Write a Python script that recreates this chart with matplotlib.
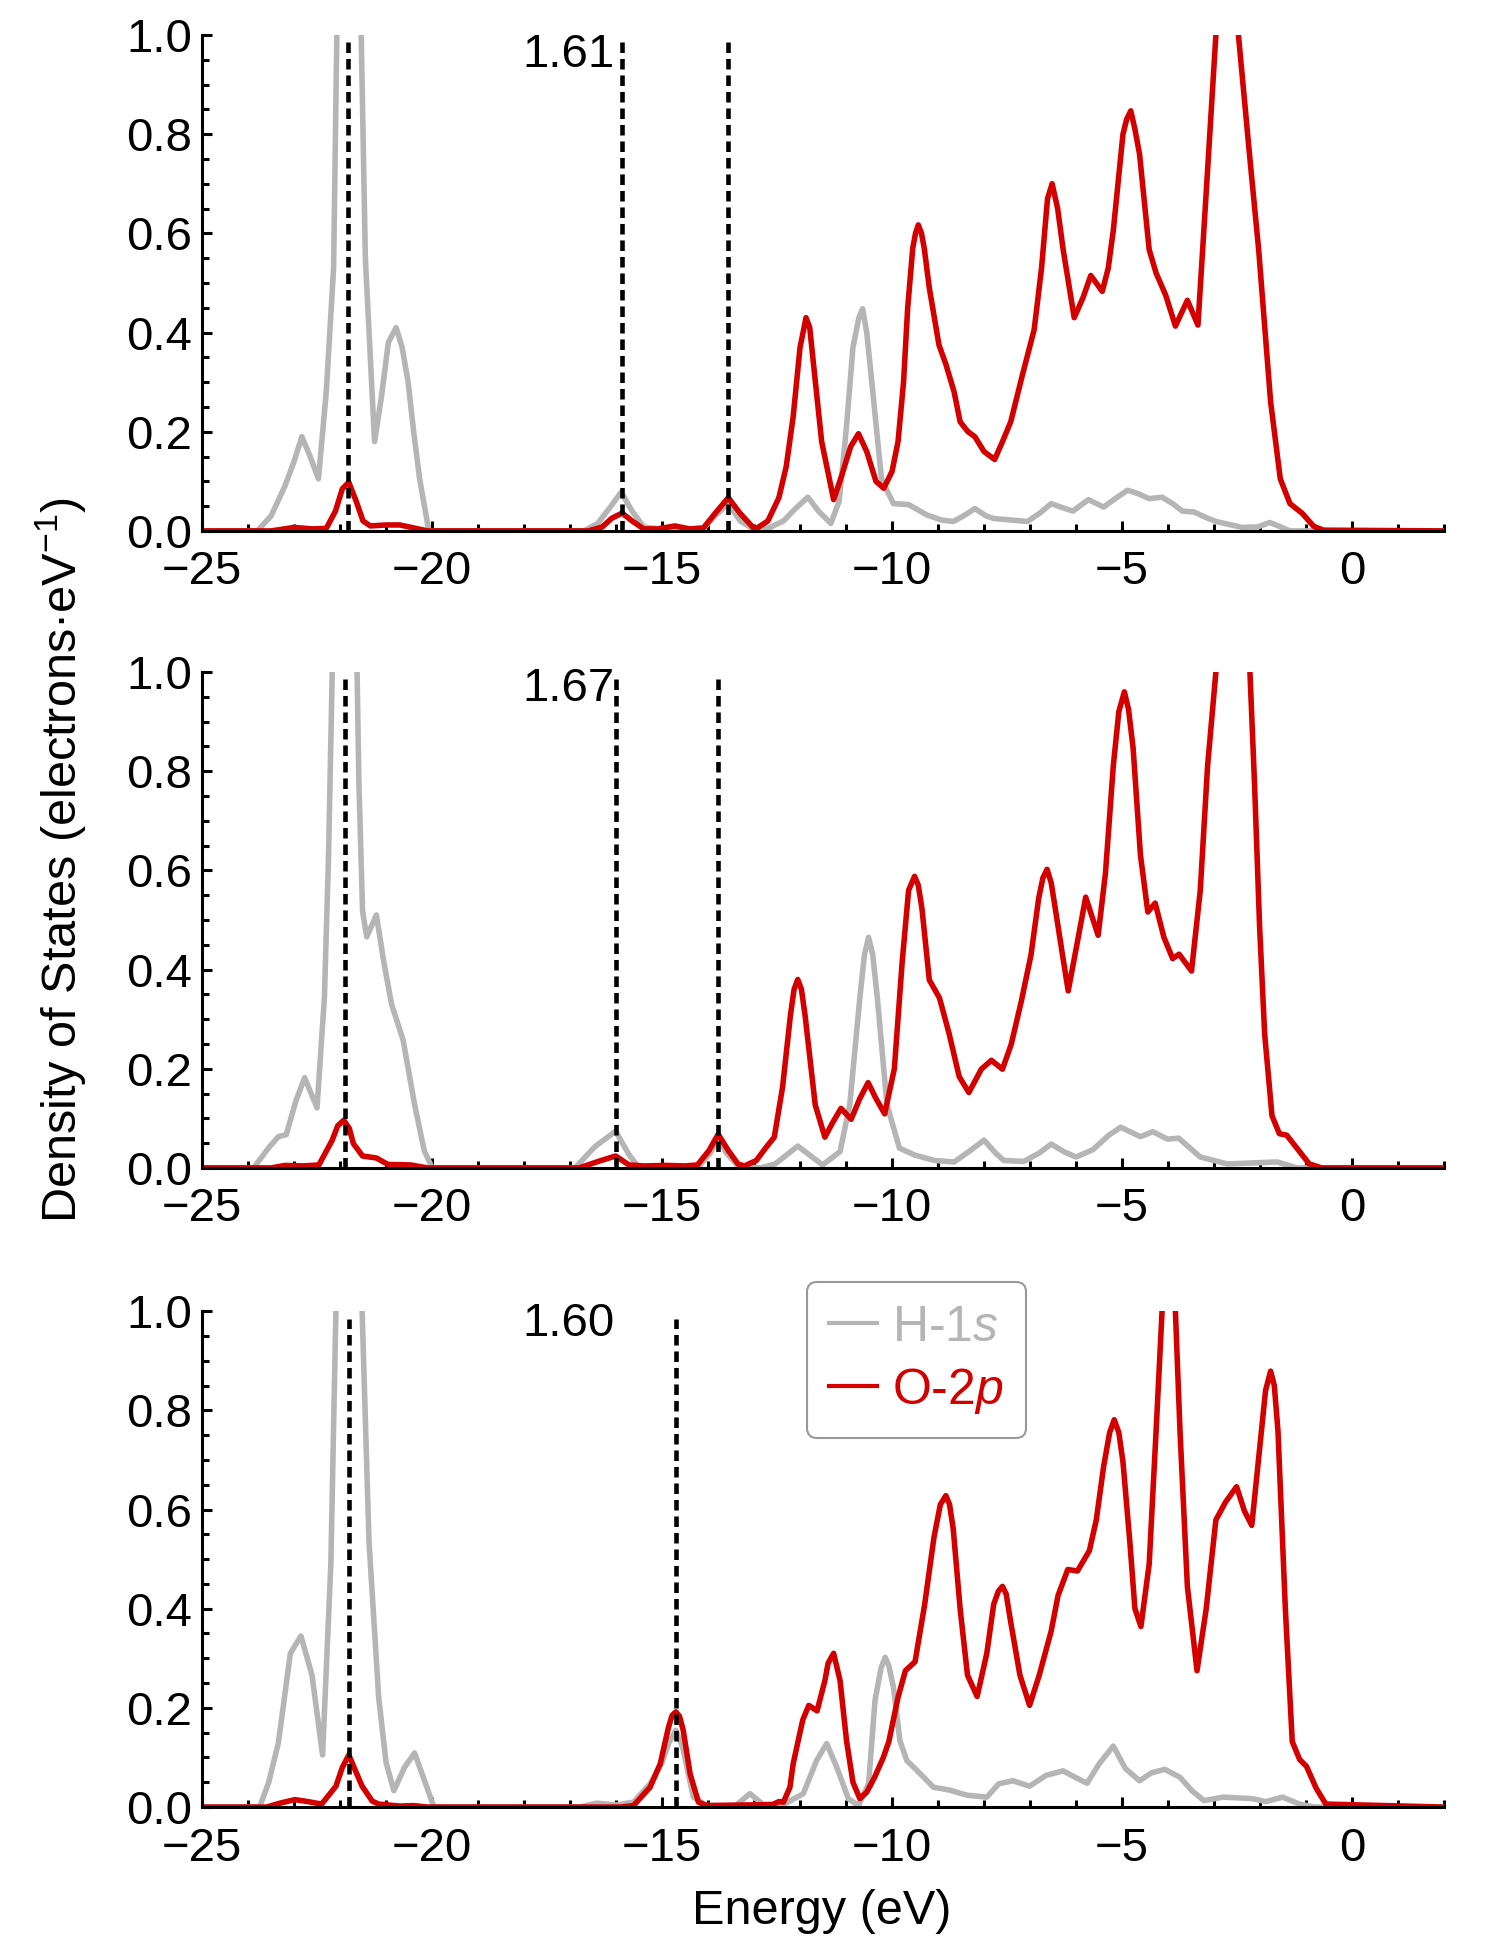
import matplotlib
matplotlib.use('Agg')
import matplotlib.pyplot as plt
from matplotlib.ticker import MultipleLocator, FormatStrFormatter
from matplotlib.lines import Line2D

plt.rcParams['font.family'] = ['Liberation Sans', 'DejaVu Sans']
plt.rcParams['mathtext.fontset'] = 'custom'
plt.rcParams['mathtext.rm'] = 'Liberation Sans'
plt.rcParams['mathtext.it'] = 'Liberation Sans:italic'

GRAY = '#b5b5b5'
RED = '#d40000'

# ---- panel 1 ----
h1_e = [-25, -23.8, -23.5, -23.2, -23.0, -22.83, -22.65, -22.47, -22.3, -22.14, -22.07, -21.95, -21.8,
        -21.65, -21.54, -21.45, -21.25, -21.1, -20.95, -20.78, -20.65, -20.52, -20.4, -20.27, -20.07,
        -16.7, -16.4, -16.15, -15.89, -15.65, -15.4, -14.9, -14.1, -13.85, -13.56, -13.3, -13.0, -12.7,
        -12.36, -12.1, -11.83, -11.6, -11.33, -11.15, -11.0, -10.85, -10.72, -10.64, -10.55, -10.44,
        -10.23, -9.97, -9.64, -9.24, -8.93, -8.67, -8.45, -8.2, -7.95, -7.79, -7.42, -7.06, -6.8, -6.54,
        -6.3, -6.07, -5.73, -5.4, -5.15, -4.88, -4.65, -4.41, -4.13, -3.9, -3.69, -3.43, -3.2, -2.96,
        -2.39, -2.05, -1.79, -1.55, -1.35, 2]
h1_v = [0, 0, 0.03, 0.09, 0.14, 0.19, 0.15, 0.105, 0.28, 0.53, 1.0, 1.8, 2.2,
        1.8, 1.0, 0.55, 0.18, 0.27, 0.38, 0.41, 0.37, 0.30, 0.2, 0.105, 0,
        0, 0.015, 0.045, 0.078, 0.04, 0.008, 0.002, 0.005, 0.03, 0.055, 0.02, 0.003, 0.005,
        0.02, 0.045, 0.068, 0.04, 0.015, 0.06, 0.2, 0.37, 0.43, 0.448, 0.40, 0.30,
        0.105, 0.055, 0.053, 0.032, 0.022, 0.019, 0.03, 0.045, 0.03, 0.025, 0.022, 0.019, 0.035, 0.055,
        0.047, 0.04, 0.063, 0.048, 0.065, 0.082, 0.075, 0.065, 0.068, 0.055, 0.04, 0.038, 0.028, 0.019,
        0.007, 0.008, 0.017, 0.008, 0.0, 0]
o1_e = [-25, -23.5, -23.0, -22.6, -22.3, -22.1, -21.95, -21.81, -21.65, -21.5, -21.34, -21.0, -20.7,
        -20.4, -20.1, -16.6, -16.3, -16.1, -15.87, -15.65, -15.4, -15.1, -14.72, -14.4, -14.1, -13.85,
        -13.56, -13.3, -12.98, -12.7, -12.46, -12.3, -12.15, -12.0, -11.87, -11.79, -11.7, -11.53, -11.27,
        -11.1, -10.9, -10.73, -10.55, -10.35, -10.18, -10.0, -9.87, -9.75, -9.66, -9.55, -9.49, -9.43,
        -9.36, -9.3, -9.19, -8.98, -8.83, -8.65, -8.52, -8.35, -8.2, -8.0, -7.77, -7.6, -7.42, -7.17,
        -6.91, -6.75, -6.62, -6.52, -6.4, -6.28, -6.04, -5.85, -5.68, -5.43, -5.3, -5.19, -4.98, -4.9,
        -4.81, -4.72, -4.62, -4.41, -4.26, -4.05, -3.84, -3.58, -3.35, -3.17, -2.96, -2.8, -2.65, -2.47,
        -2.23, -2.03, -1.77, -1.56, -1.35, -1.09, -0.83, -0.62, 2]
o1_v = [0, 0, 0.007, 0.004, 0.005, 0.04, 0.085, 0.098, 0.06, 0.02, 0.01, 0.012, 0.012,
        0.006, 0, 0, 0.008, 0.025, 0.036, 0.02, 0.004, 0.004, 0.01, 0.004, 0.006, 0.035,
        0.067, 0.035, 0.003, 0.02, 0.067, 0.13, 0.23, 0.37, 0.43, 0.41, 0.33, 0.18, 0.063,
        0.11, 0.17, 0.196, 0.16, 0.1, 0.086, 0.12, 0.18, 0.3, 0.45, 0.57, 0.60, 0.617,
        0.60, 0.57, 0.49, 0.375, 0.336, 0.28, 0.22, 0.2, 0.19, 0.16, 0.144, 0.18, 0.22, 0.313,
        0.406, 0.53, 0.67, 0.70, 0.65, 0.567, 0.43, 0.47, 0.515, 0.483, 0.53, 0.606, 0.80, 0.83,
        0.847, 0.81, 0.76, 0.567, 0.52, 0.475, 0.413, 0.465, 0.415, 0.683, 1.0, 1.3, 1.3, 1.0,
        0.76, 0.567, 0.26, 0.105, 0.055, 0.036, 0.009, 0.0015, 0]

# ---- panel 2 ----
h2_e = [-25, -23.88, -23.54, -23.34, -23.17, -22.96, -22.77, -22.5, -22.34, -22.25, -22.17, -22.05,
        -21.9, -21.75, -21.63, -21.59, -21.51, -21.42, -21.21, -21.05, -20.88, -20.63, -20.38, -20.17,
        -20.0, -16.89, -16.47, -16.01, -15.72, -15.5, -14.2, -13.95, -13.78, -13.6, -13.35, -12.86,
        -12.54, -12.05, -11.51, -11.13, -10.92, -10.7, -10.6, -10.51, -10.42, -10.32, -10.11, -9.84,
        -9.51, -9.08, -8.65, -8.3, -8.0, -7.75, -7.57, -7.14, -6.8, -6.54, -6.25, -6.0, -5.63, -5.3,
        -5.03, -4.6, -4.33, -4.01, -3.77, -3.3, -2.71, -1.63, -1.2, 2]
h2_v = [0, 0, 0.042, 0.063, 0.067, 0.135, 0.182, 0.121, 0.344, 0.63, 1.0, 1.8,
        2.2, 1.8, 1.0, 0.776, 0.517, 0.466, 0.51, 0.416, 0.33, 0.258, 0.128, 0.035,
        0, 0, 0.042, 0.074, 0.027, 0, 0.003, 0.03, 0.06, 0.03, 0.004, 0,
        0.008, 0.044, 0.006, 0.033, 0.127, 0.343, 0.43, 0.465, 0.43, 0.343, 0.127, 0.04,
        0.026, 0.015, 0.012, 0.035, 0.056, 0.03, 0.015, 0.013, 0.03, 0.048, 0.032, 0.022, 0.037, 0.065,
        0.082, 0.063, 0.073, 0.058, 0.06, 0.022, 0.008, 0.012, 0, 0]
o2_e = [-25, -23.5, -23.2, -22.8, -22.46, -22.17, -22.05, -21.92, -21.8, -21.71, -21.51, -21.21,
        -20.96, -20.47, -20.1, -16.8, -16.39, -16.01, -15.72, -15.4, -14.9, -14.5, -14.23, -13.98,
        -13.78, -13.56, -13.35, -13.21, -12.95, -12.75, -12.56, -12.38, -12.21, -12.13, -12.05, -11.97,
        -11.89, -11.67, -11.46, -11.3, -11.11, -10.89, -10.7, -10.52, -10.35, -10.16, -9.95, -9.78,
        -9.64, -9.51, -9.43, -9.35, -9.19, -8.97, -8.76, -8.54, -8.33, -8.06, -7.84, -7.6, -7.41, -7.19,
        -6.98, -6.81, -6.72, -6.63, -6.54, -6.44, -6.27, -6.17, -5.98, -5.79, -5.52, -5.36, -5.19,
        -5.07, -4.95, -4.86, -4.76, -4.6, -4.44, -4.28, -4.09, -3.9, -3.76, -3.49, -3.3, -3.14, -2.96,
        -2.75, -2.45, -2.22, -2.12, -2.01, -1.9, -1.74, -1.58, -1.42, -1.2, -0.93, -0.66, 2]
o2_v = [0, 0, 0.005, 0.004, 0.006, 0.056, 0.085, 0.096, 0.08, 0.049, 0.024, 0.02,
        0.007, 0.006, 0, 0, 0.013, 0.024, 0.006, 0.004, 0.005, 0.004, 0.006, 0.035,
        0.068, 0.035, 0.008, 0.004, 0.015, 0.04, 0.062, 0.163, 0.307, 0.36, 0.38, 0.36,
        0.307, 0.127, 0.062, 0.09, 0.12, 0.098, 0.14, 0.172, 0.14, 0.109, 0.2, 0.415,
        0.56, 0.588, 0.57, 0.523, 0.379, 0.343, 0.271, 0.184, 0.152, 0.199, 0.217, 0.199, 0.249, 0.336,
        0.429, 0.545, 0.585, 0.602, 0.575, 0.516, 0.415, 0.357, 0.451, 0.546, 0.469, 0.595, 0.811,
        0.92, 0.96, 0.925, 0.847, 0.631, 0.516, 0.534, 0.465, 0.422, 0.431, 0.397, 0.559, 0.811, 1.0,
        1.3, 1.3, 1.0, 0.775, 0.487, 0.27, 0.105, 0.069, 0.066, 0.04, 0.008, 0, 0]

# ---- panel 3 ----
h3_e = [-25, -23.75, -23.55, -23.34, -23.08, -22.85, -22.61, -22.38, -22.2, -22.09, -21.95, -21.8,
        -21.65, -21.52, -21.37, -21.16, -21.0, -20.83, -20.6, -20.38, -20.12, -19.96, -16.8, -16.42,
        -16.0, -15.62, -15.26, -15.0, -14.85, -14.7, -14.55, -14.32, -14.03, -13.4, -13.09, -12.8,
        -12.36, -11.93, -11.64, -11.42, -11.2, -10.95, -10.73, -10.51, -10.37, -10.24, -10.15, -10.07,
        -9.97, -9.83, -9.68, -9.46, -9.1, -8.74, -8.38, -7.94, -7.68, -7.37, -7.01, -6.65, -6.28, -6.02,
        -5.76, -5.5, -5.19, -4.93, -4.62, -4.36, -4.07, -3.74, -3.48, -3.22, -2.8, -2.18, -1.87, -1.51,
        -1.14, -0.8, 2]
h3_v = [0, 0, 0.05, 0.13, 0.31, 0.345, 0.266, 0.105, 0.49, 1.0, 1.8, 2.2,
        1.8, 1.0, 0.534, 0.221, 0.09, 0.033, 0.08, 0.109, 0.042, 0, 0, 0.008,
        0.004, 0.01, 0.047, 0.09, 0.13, 0.155, 0.12, 0.02, 0.003, 0.003, 0.027, 0.005,
        0.005, 0.027, 0.094, 0.128, 0.08, 0.017, 0.003, 0.047, 0.215, 0.28, 0.302, 0.285,
        0.242, 0.134, 0.094, 0.074, 0.04, 0.034, 0.024, 0.02, 0.047, 0.053, 0.042, 0.064, 0.073, 0.06,
        0.048, 0.087, 0.123, 0.078, 0.053, 0.069, 0.076, 0.06, 0.033, 0.013, 0.02, 0.017, 0.011, 0.02,
        0.006, 0, 0]
o3_e = [-25, -23.6, -23.3, -22.98, -22.7, -22.4, -22.09, -21.95, -21.81, -21.65, -21.52, -21.3,
        -21.16, -20.7, -20.4, -20.1, -15.9, -15.62, -15.26, -15.04, -14.86, -14.78, -14.7, -14.62,
        -14.54, -14.39, -14.21, -14.03, -12.6, -12.46, -12.36, -12.22, -12.15, -12.04, -11.94, -11.81,
        -11.63, -11.46, -11.39, -11.27, -11.13, -10.99, -10.85, -10.7, -10.55, -10.38, -10.19, -10.07,
        -9.87, -9.71, -9.5, -9.29, -9.09, -8.95, -8.83, -8.75, -8.67, -8.52, -8.36, -8.15, -7.94, -7.79,
        -7.69, -7.6, -7.52, -7.42, -7.22, -7.01, -6.8, -6.54, -6.39, -6.18, -5.97, -5.71, -5.56, -5.4,
        -5.27, -5.17, -5.07, -4.98, -4.83, -4.72, -4.59, -4.41, -4.26, -4.13, -3.98, -3.84, -3.74,
        -3.58, -3.37, -3.17, -2.96, -2.75, -2.51, -2.34, -2.18, -2.02, -1.88, -1.77, -1.69, -1.61,
        -1.45, -1.3, -1.14, -0.99, -0.78, -0.57, 2]
o3_v = [0, 0, 0.008, 0.015, 0.011, 0.006, 0.042, 0.08, 0.105, 0.07, 0.042, 0.012,
        0.006, 0.002, 0.003, 0, 0, 0.003, 0.04, 0.087, 0.161, 0.185, 0.192, 0.183,
        0.155, 0.067, 0.01, 0.003, 0.005, 0.011, 0.01, 0.04, 0.087, 0.134, 0.176, 0.205,
        0.194, 0.255, 0.29, 0.31, 0.255, 0.134, 0.05, 0.017, 0.03, 0.06, 0.10, 0.132,
        0.221, 0.275, 0.293, 0.409, 0.543, 0.61, 0.628, 0.61, 0.561, 0.40, 0.266, 0.223, 0.31, 0.409,
        0.435, 0.445, 0.43, 0.373, 0.266, 0.205, 0.266, 0.355, 0.427, 0.479, 0.476, 0.517, 0.579, 0.687,
        0.755, 0.781, 0.755, 0.696, 0.534, 0.40, 0.364, 0.49, 0.758, 1.0, 1.2, 1.0, 0.758,
        0.445, 0.275, 0.40, 0.579, 0.615, 0.646, 0.597, 0.568, 0.713, 0.84, 0.879, 0.85, 0.758,
        0.40, 0.132, 0.096, 0.082, 0.038, 0.006, 0]

vlines = [[-21.83, -15.87, -13.56], [-21.9, -16.01, -13.79], [-21.81, -14.70]]
labels = ['1.61', '1.67', '1.60']
label_y = [0.96, 0.965, 0.975]

panels = [(h1_e, h1_v, o1_e, o1_v), (h2_e, h2_v, o2_e, o2_v), (h3_e, h3_v, o3_e, o3_v)]
bottoms = [0.7283, 0.4023, 0.0752]

fig = plt.figure(figsize=(15, 19.54), dpi=100)
axs = []
for i, (he, hv, oe, ov) in enumerate(panels):
    ax = fig.add_axes([0.1347, bottoms[i], 0.828, 0.2538])
    ax.plot(he, hv, color=GRAY, lw=4.0, solid_joinstyle='round')
    ax.plot(oe, ov, color=RED, lw=4.0, solid_joinstyle='round')
    for x in vlines[i]:
        ax.plot([x, x], [0, 0.985], color='black', lw=3.3, linestyle=(0, (2.3, 1.3)))
    ax.text(-17.04, label_y[i], labels[i], fontsize=34, ha='center', va='center')
    ax.set_xlim(-25, 2)
    ax.set_ylim(0, 1)
    for s in ['top', 'right']:
        ax.spines[s].set_visible(False)
    for s in ['left', 'bottom']:
        ax.spines[s].set_linewidth(2.2)
    ax.xaxis.set_major_locator(MultipleLocator(5))
    ax.xaxis.set_minor_locator(MultipleLocator(1))
    ax.yaxis.set_major_locator(MultipleLocator(0.2))
    ax.yaxis.set_minor_locator(MultipleLocator(0.05))
    ax.yaxis.set_major_formatter(FormatStrFormatter('%.1f'))
    ax.tick_params(which='both', direction='in', width=2.2, labelsize=34)
    ax.tick_params(which='major', length=7)
    ax.tick_params(which='minor', length=5)
    ax.tick_params(axis='x', pad=14)
    ax.tick_params(axis='y', pad=7)
    axs.append(ax)

handles = [Line2D([], [], color=GRAY, lw=3), Line2D([], [], color=RED, lw=3)]
leg = axs[2].legend(handles, ['H-1$s$', 'O-2$p$'], loc='upper left', bbox_to_anchor=(0.487, 1.058),
                    fontsize=36, frameon=True, fancybox=True, edgecolor='#999999', framealpha=1,
                    handlelength=0.95, handletextpad=0.3, labelspacing=0.3, borderpad=0.45,
                    borderaxespad=0, labelcolor='linecolor')
leg.get_frame().set_linewidth(1.5)

fig.text(0.041, 0.56, 'Density of States (electrons·eV$^{-1}$)', rotation=90,
         fontsize=35, ha='center', va='center')
fig.text(0.548, 0.0215, 'Energy (eV)', fontsize=35, ha='center', va='center')

fig.savefig('out.png', dpi=100)
